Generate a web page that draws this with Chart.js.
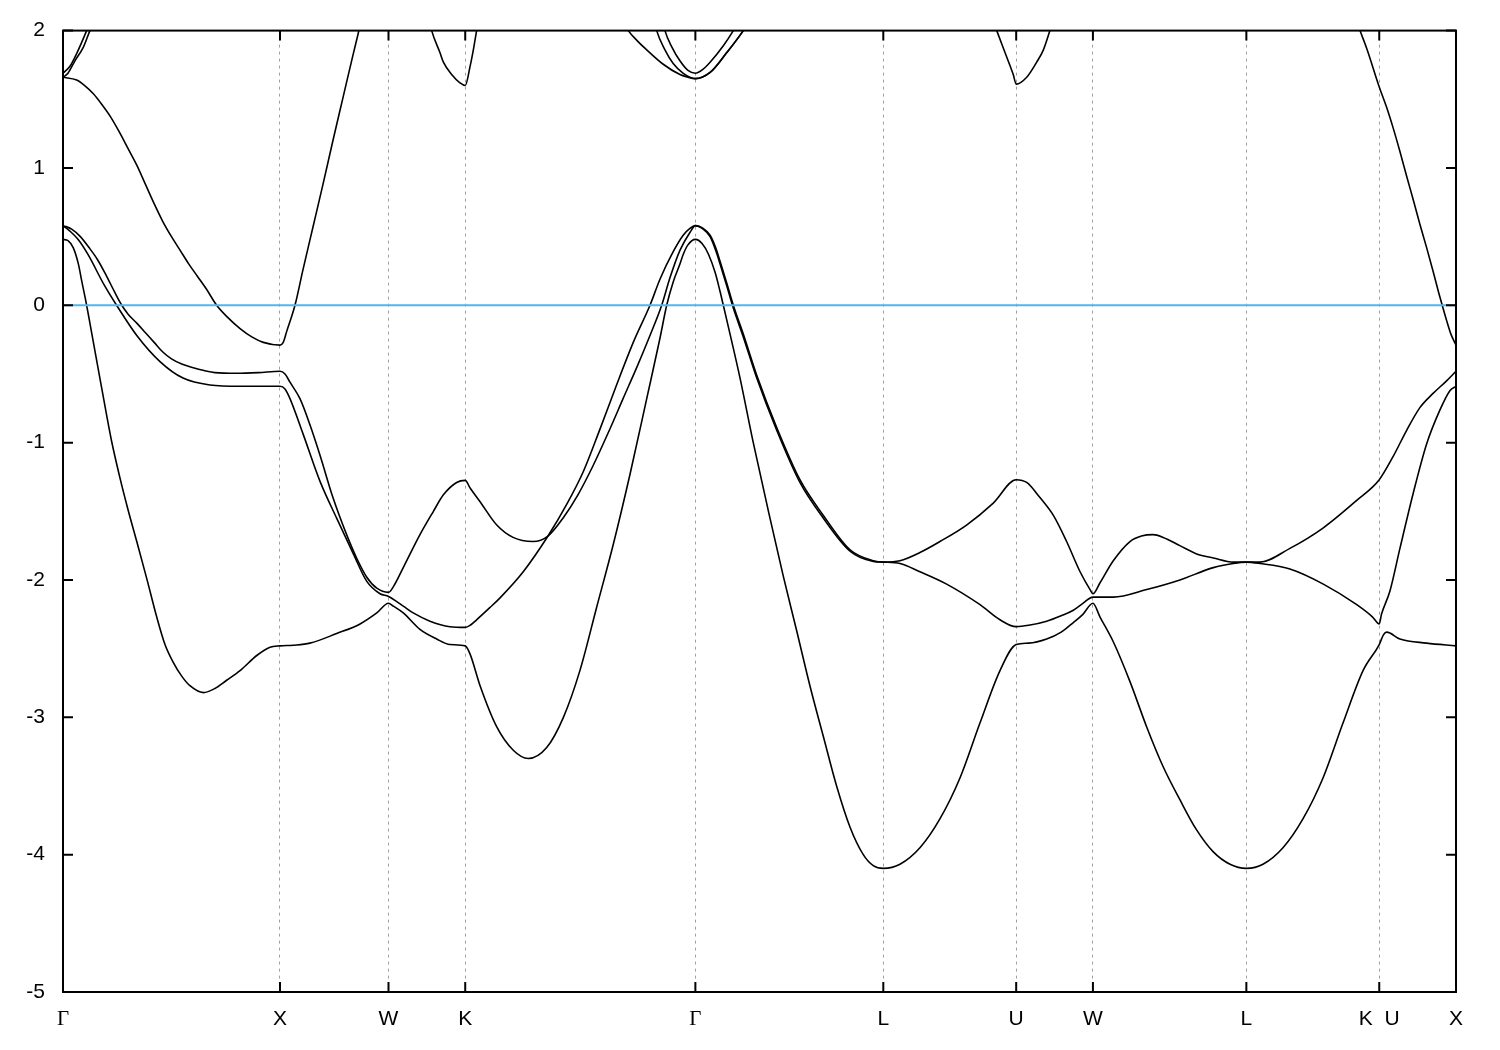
<!DOCTYPE html>
<html>
<head>
<meta charset="utf-8">
<title>Band structure</title>
<script src="https://cdn.jsdelivr.net/npm/chart.js@4.4.1/dist/chart.umd.min.js"></script>
<style>
  html, body { margin: 0; padding: 0; background: #fff; }
  canvas { display: block; }
</style>
</head>
<body>
<canvas id="bands" width="1500" height="1050"></canvas>
<script>
// high symmetry points along the k-path
const symK = [0, 1, 1.5, 1.8536, 2.9142, 3.7802, 4.3926, 4.7462, 5.4533, 6.0657, 6.4194];
const symLabels = ['Γ', 'X', 'W', 'K', 'Γ', 'L', 'U', 'W', 'L', 'K  U', 'X'];

// bands as [k, E(eV)] pairs, null = band leaves the window
const bandA = [
  [0,0.48],[0.023,0.47],[0.047,0.42],[0.071,0.30],[0.086,0.18],[0.109,0],[0.124,-0.13],[0.163,-0.47],[0.201,-0.80],[0.224,-0.99],[0.263,-1.26],[0.300,-1.49],[0.340,-1.72],[0.386,-1.99],[0.432,-2.27],[0.470,-2.47],[0.508,-2.60],[0.547,-2.70],[0.585,-2.77],[0.647,-2.82],[0.700,-2.79],[0.754,-2.73],[0.816,-2.66],[0.893,-2.55],[0.954,-2.49],[1,-2.48],
  [1.060,-2.475],[1.138,-2.46],[1.261,-2.39],[1.369,-2.32],[1.446,-2.24],[1.5,-2.17],
  [1.522,-2.19],[1.568,-2.24],[1.645,-2.36],[1.722,-2.43],[1.783,-2.47],[1.8536,-2.48],
  [1.876,-2.54],[1.922,-2.77],[1.999,-3.07],[2.075,-3.24],[2.144,-3.30],[2.229,-3.22],[2.306,-3.00],[2.382,-2.66],[2.459,-2.20],[2.536,-1.74],[2.613,-1.23],[2.690,-0.68],[2.751,-0.24],[2.782,0],[2.812,0.17],[2.843,0.30],[2.858,0.37],[2.880,0.44],[2.9142,0.48],
  [2.945,0.45],[2.975,0.37],[3.005,0.24],[3.028,0.10],[3.043,0],[3.074,-0.21],[3.120,-0.53],[3.181,-1.00],[3.258,-1.55],[3.319,-1.97],[3.381,-2.37],[3.442,-2.77],[3.504,-3.14],[3.565,-3.50],[3.627,-3.80],[3.688,-4.00],[3.734,-4.08],[3.7802,-4.10],
  [3.857,-4.07],[3.949,-3.95],[4.041,-3.74],[4.134,-3.44],[4.226,-3.04],[4.318,-2.66],[4.3926,-2.47],
  [4.45,-2.46],[4.533,-2.43],[4.60,-2.38],[4.656,-2.31],[4.70,-2.25],[4.7462,-2.17],
  [4.779,-2.27],[4.840,-2.45],[4.917,-2.74],[4.994,-3.07],[5.070,-3.36],[5.147,-3.60],[5.224,-3.82],[5.301,-3.98],[5.378,-4.07],[5.4533,-4.10],
  [5.530,-4.07],[5.622,-3.95],[5.714,-3.74],[5.807,-3.44],[5.899,-3.04],[5.991,-2.66],[6.0657,-2.47],
  [6.085,-2.40],[6.100,-2.38],[6.161,-2.43],[6.284,-2.46],[6.4194,-2.48]
];

const bandB = [
  [0,0.58],[0.040,0.555],[0.080,0.50],[0.120,0.42],[0.160,0.33],[0.200,0.215],[0.240,0.09],[0.271,0],[0.300,-0.065],[0.340,-0.13],[0.380,-0.20],[0.420,-0.27],[0.460,-0.34],[0.500,-0.39],[0.550,-0.43],[0.600,-0.455],[0.650,-0.475],[0.700,-0.49],[0.800,-0.495],[0.900,-0.49],[1,-0.48],
  [1.023,-0.50],[1.046,-0.56],[1.092,-0.68],[1.138,-0.87],[1.184,-1.09],[1.244,-1.40],[1.307,-1.67],[1.353,-1.84],[1.400,-1.98],[1.446,-2.06],[1.5,-2.09],
  [1.522,-2.05],[1.568,-1.91],[1.645,-1.67],[1.707,-1.50],[1.753,-1.38],[1.814,-1.29],[1.8536,-1.275],
  [1.876,-1.33],[1.922,-1.43],[1.999,-1.60],[2.074,-1.69],[2.166,-1.72],[2.235,-1.68],[2.304,-1.55],[2.373,-1.38],[2.442,-1.17],[2.512,-0.93],[2.581,-0.68],[2.650,-0.43],[2.705,-0.22],[2.759,0],[2.797,0.20],[2.843,0.40],[2.889,0.53],[2.9142,0.58],
  [2.950,0.56],[2.982,0.51],[3.010,0.41],[3.028,0.32],[3.059,0.16],[3.089,0],[3.135,-0.21],[3.197,-0.51],[3.289,-0.89],[3.396,-1.27],[3.504,-1.53],[3.627,-1.78],[3.734,-1.86],[3.7802,-1.87],
  [3.857,-1.86],[3.949,-1.80],[4.041,-1.72],[4.164,-1.60],[4.287,-1.44],[4.3926,-1.27],
  [4.441,-1.29],[4.502,-1.40],[4.564,-1.53],[4.625,-1.72],[4.687,-1.94],[4.733,-2.07],[4.7462,-2.10],
  [4.779,-2.02],[4.840,-1.86],[4.917,-1.72],[4.970,-1.68],[5.024,-1.67],[5.070,-1.69],[5.147,-1.75],[5.224,-1.81],[5.301,-1.84],[5.393,-1.87],[5.4533,-1.87],
  [5.516,-1.87],[5.654,-1.77],[5.808,-1.62],[5.962,-1.42],[6.0657,-1.27],
  [6.130,-1.10],[6.192,-0.91],[6.253,-0.745],[6.315,-0.64],[6.376,-0.55],[6.4194,-0.48]
];

const bandC = [
  [0,0.58],[0.032,0.54],[0.069,0.48],[0.115,0.37],[0.189,0.15],[0.247,0],[0.340,-0.22],[0.447,-0.41],[0.553,-0.53],[0.677,-0.58],[0.816,-0.59],[1,-0.59],
  [1.023,-0.61],[1.046,-0.68],[1.107,-0.94],[1.184,-1.28],[1.261,-1.55],[1.338,-1.81],[1.400,-2.01],[1.461,-2.10],[1.5,-2.12],
  [1.568,-2.19],[1.614,-2.24],[1.691,-2.30],[1.783,-2.34],[1.8536,-2.345],
  [1.876,-2.33],[1.906,-2.29],[1.968,-2.20],[2.014,-2.13],[2.121,-1.94],[2.235,-1.68],[2.321,-1.45],[2.398,-1.21],[2.475,-0.90],[2.551,-0.58],[2.628,-0.27],[2.705,0],[2.751,0.19],[2.812,0.39],[2.858,0.51],[2.889,0.56],[2.9142,0.58],
  [2.950,0.555],[2.982,0.50],[3.010,0.39],[3.028,0.30],[3.059,0.14],[3.089,-0.02],[3.135,-0.23],[3.197,-0.53],[3.289,-0.91],[3.396,-1.29],[3.504,-1.55],[3.627,-1.79],[3.734,-1.865],[3.7802,-1.87],
  [3.857,-1.88],[3.949,-1.94],[4.072,-2.03],[4.226,-2.18],[4.318,-2.29],[4.3926,-2.34],
  [4.45,-2.33],[4.533,-2.30],[4.60,-2.26],[4.656,-2.22],[4.70,-2.17],[4.7462,-2.125],
  [4.840,-2.125],[4.994,-2.07],[5.147,-2.00],[5.301,-1.91],[5.393,-1.88],[5.4533,-1.87],
  [5.516,-1.88],[5.654,-1.92],[5.808,-2.03],[5.962,-2.18],[6.035,-2.27],[6.0657,-2.32],
  [6.076,-2.25],[6.115,-2.08],[6.161,-1.77],[6.222,-1.37],[6.284,-1.01],[6.346,-0.76],[6.392,-0.62],[6.4194,-0.59]
];

const bandD = [
  [0,1.66],[0.063,1.64],[0.100,1.60],[0.140,1.54],[0.180,1.46],[0.220,1.37],[0.260,1.26],[0.300,1.14],[0.340,1.02],[0.380,0.88],[0.420,0.74],[0.460,0.61],[0.500,0.50],[0.540,0.40],[0.580,0.30],[0.620,0.21],[0.660,0.12],[0.708,0],[0.760,-0.09],[0.816,-0.17],[0.870,-0.23],[0.923,-0.27],[1,-0.29],
  [1.015,-0.27],[1.031,-0.19],[1.069,0],[1.106,0.26],[1.152,0.57],[1.198,0.88],[1.244,1.20],[1.290,1.51],[1.336,1.82],[1.359,1.97],[1.382,2.13],[1.383,null],
  [1.682,2.12],[1.699,2.0],[1.737,1.84],[1.753,1.77],[1.791,1.68],[1.829,1.62],[1.8536,1.60],[1.876,1.74],[1.891,1.86],[1.906,2.0],[1.917,2.10],[1.918,null],
  [2.570,2.10],[2.605,2.0],[2.650,1.92],[2.690,1.86],[2.766,1.755],[2.843,1.68],[2.880,1.66],[2.9142,1.65],[2.982,1.695],[3.059,1.84],[3.135,2.0],[3.166,2.08],[3.167,null],
  [4.286,2.07],[4.303,2.0],[4.341,1.84],[4.379,1.68],[4.3926,1.61],[4.441,1.66],[4.487,1.77],[4.518,1.86],[4.548,2.0],[4.562,2.07],[4.563,null],
  [5.959,2.08],[5.977,2.0],[6.008,1.87],[6.0657,1.59],[6.100,1.44],[6.130,1.29],[6.161,1.12],[6.192,0.94],[6.222,0.77],[6.253,0.59],[6.284,0.42],[6.315,0.24],[6.340,0.09],[6.356,0],[6.376,-0.11],[6.396,-0.21],[6.4194,-0.29]
];

const bandE1 = [
  [0,1.66],[0.023,1.69],[0.055,1.78],[0.094,1.88],[0.124,2.0],[0.138,2.05],[0.139,null],
  [2.722,2.10],[2.736,2.0],[2.774,1.86],[2.812,1.76],[2.857,1.69],[2.889,1.66],[2.9142,1.65],[2.982,1.695],[3.059,1.84],[3.135,2.0],[3.166,2.08]
];

const bandE2 = [
  [0,1.69],[0.032,1.74],[0.065,1.84],[0.109,2.0],[0.124,2.06],[0.125,null],
  [2.760,2.10],[2.774,2.0],[2.806,1.88],[2.843,1.78],[2.880,1.71],[2.9142,1.69],[2.950,1.72],[2.982,1.77],[3.043,1.89],[3.089,2.0],[3.110,2.06]
];

const fermi = [[0, 0], [6.4194, 0]];

Chart.defaults.font.family = 'Liberation Sans';
Chart.defaults.color = '#000';

const bandStyle = {
  borderColor: '#000',
  borderWidth: 1.6,
  pointRadius: 0,
  fill: false,
  cubicInterpolationMode: 'monotone',
  spanGaps: false
};

// box frame with inward ticks, like gnuplot
const frame = {
  id: 'frame',
  afterDatasetsDraw(chart) {
    const { ctx, chartArea: a, scales: { x, y } } = chart;
    ctx.save();
    ctx.strokeStyle = '#000';
    ctx.lineWidth = 2;
    ctx.beginPath();
    y.ticks.forEach(t => {
      const py = y.getPixelForValue(t.value);
      ctx.moveTo(a.left, py); ctx.lineTo(a.left + 10, py);
      ctx.moveTo(a.right, py); ctx.lineTo(a.right - 10, py);
    });
    symK.forEach(k => {
      const px = x.getPixelForValue(k);
      ctx.moveTo(px, a.top); ctx.lineTo(px, a.top + 10);
      ctx.moveTo(px, a.bottom); ctx.lineTo(px, a.bottom - 10);
    });
    ctx.stroke();
    ctx.strokeRect(a.left, a.top, a.right - a.left, a.bottom - a.top);
    ctx.restore();
  }
};

const config = {
  type: 'line',
  data: {
    datasets: [
      { label: 'EF', data: fermi, borderColor: '#56b4e9', borderWidth: 2, pointRadius: 0, fill: false },
      ...[bandA, bandB, bandC, bandD, bandE1, bandE2].map((b, i) => ({ label: 'band ' + (i + 1), data: b, ...bandStyle }))
    ]
  },
  options: {
    responsive: false,
    animation: false,
    layout: { padding: { left: 0, right: 44, top: 28, bottom: 0 } },
    plugins: {
      legend: { display: false },
      tooltip: { enabled: false }
    },
    scales: {
      x: {
        type: 'linear',
        min: 0,
        max: symK[symK.length - 1],
        afterBuildTicks: s => { s.ticks = symK.map(v => ({ value: v })); },
        afterFit: s => { s.height = 58; },
        ticks: {
          autoSkip: false,
          maxRotation: 0,
          minRotation: 0,
          padding: 15,
          callback: (v, i) => symLabels[i],
          font: c => ({
            family: symLabels[c.index] === 'Γ' ? 'Liberation Serif' : 'Liberation Sans',
            size: 21
          })
        },
        grid: {
          drawTicks: false,
          lineWidth: 1,
          color: c => (c.index === 0 || c.index === symK.length - 1) ? 'rgba(0,0,0,0)' : '#a0a0a0'
        },
        border: { display: false, dash: [3, 4] }
      },
      y: {
        min: -5,
        max: 2,
        afterFit: s => { s.width = 63; },
        ticks: { stepSize: 1, padding: 18, font: { size: 21 } },
        grid: { display: false, drawTicks: false },
        border: { display: false }
      }
    }
  },
  plugins: [frame]
};

new Chart(document.getElementById('bands'), config);
</script>
</body>
</html>
